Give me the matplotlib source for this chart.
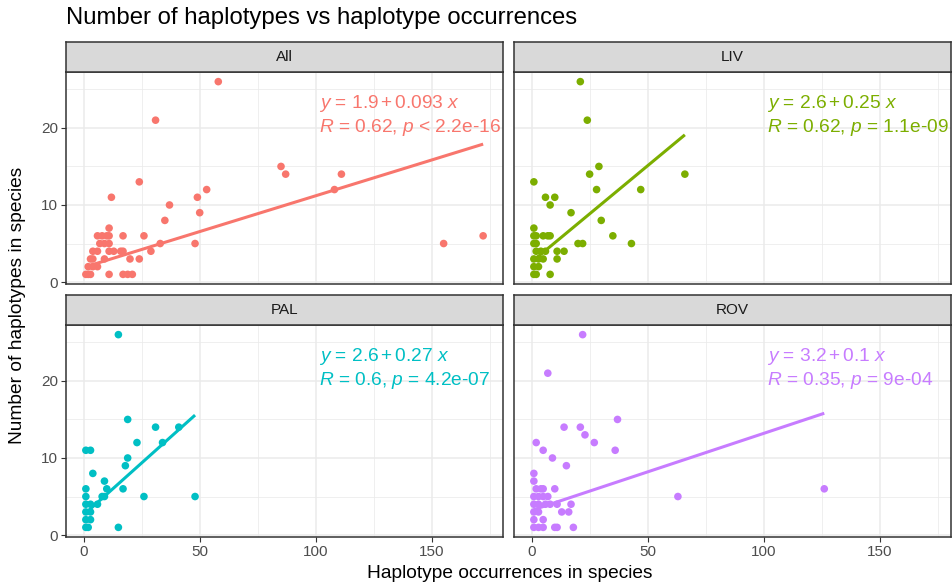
import numpy as np
import matplotlib.pyplot as plt

plt.rcParams['font.family'] = ['Liberation Sans', 'DejaVu Sans']
plt.rcParams['mathtext.fontset'] = 'custom'
plt.rcParams['mathtext.rm'] = 'Liberation Sans'
plt.rcParams['mathtext.it'] = 'Liberation Sans:italic'

# --- DATOS ---
groups = ['All', 'LIV', 'PAL', 'ROV']
colors = ['#F8766D', '#7CAE00', '#00BFC4', '#C77CFF']

all_x = [58, 31, 85, 87, 111, 108, 53, 49, 50, 37, 35, 24, 12, 155, 172, 48, 33, 29, 26, 17,
         24, 20, 11, 11, 17, 19, 21, 6, 8, 10, 11, 7, 9, 11, 4, 6, 11, 13, 16, 17,
         3, 4, 9, 2, 4, 6, 1, 2, 3]
all_y = [26, 21, 15, 14, 14, 12, 12, 11, 9, 10, 8, 13, 11, 5, 6, 5, 5, 4, 6, 6,
         3, 3, 7, 1, 1, 1, 1, 6, 6, 6, 6, 5, 5, 5, 4, 4, 4, 4, 4, 4,
         3, 3, 3, 2, 2, 2, 1, 1, 1]

liv_x = [21, 24, 29, 25, 28, 66, 47, 1, 6, 10, 8, 17, 30, 35, 43, 20, 22, 1, 1, 2, 5, 7, 8,
         1, 2, 2, 4, 6, 11, 14, 1, 3, 5, 11, 1, 3, 1, 2, 8]
liv_y = [26, 21, 15, 14, 12, 14, 12, 13, 11, 11, 10, 9, 8, 6, 5, 5, 5, 7, 6, 6, 6, 6, 6,
         5, 5, 4, 4, 4, 4, 4, 3, 3, 3, 3, 2, 2, 1, 1, 1]

pal_x = [15, 19, 31, 41, 23, 34, 1, 3, 19, 18, 4, 9, 10, 17, 1, 8, 9, 26, 48, 1,
         1, 3, 6, 1, 3, 1, 3, 1, 2, 15]
pal_y = [26, 15, 14, 14, 12, 12, 11, 11, 10, 9, 8, 7, 6, 6, 6, 5, 5, 5, 5, 5,
         4, 4, 4, 3, 3, 2, 2, 1, 1, 1]

rov_x = [22, 7, 37, 14, 21, 23, 27, 36, 2, 5, 9, 15, 1, 1, 2, 4, 5, 10, 1, 3, 5, 7, 63, 126,
         1, 3, 6, 8, 11, 17, 1, 3, 13, 16, 1, 5, 1, 3, 5, 10, 11, 18]
rov_y = [26, 21, 15, 14, 14, 13, 12, 11, 12, 11, 10, 9, 8, 7, 6, 6, 6, 6, 5, 5, 5, 5, 5, 6,
         4, 4, 4, 4, 4, 4, 3, 3, 3, 3, 2, 2, 1, 1, 1, 1, 1, 1]

# coeficientes de la regresión (etiquetas del gráfico)
intercepts = [1.9, 2.6, 2.6, 3.2]
slopes = [0.093, 0.25, 0.27, 0.1]
eq_labels = [r'$\it{y}$ = 1.9$\,$+$\,$0.093 $\it{x}$', r'$\it{y}$ = 2.6$\,$+$\,$0.25 $\it{x}$',
             r'$\it{y}$ = 2.6$\,$+$\,$0.27 $\it{x}$', r'$\it{y}$ = 3.2$\,$+$\,$0.1 $\it{x}$']
cor_labels = [r'$\it{R}$ = 0.62, $\it{p}$ < 2.2e-16', r'$\it{R}$ = 0.62, $\it{p}$ = 1.1e-09',
              r'$\it{R}$ = 0.6, $\it{p}$ = 4.2e-07', r'$\it{R}$ = 0.35, $\it{p}$ = 9e-04']

xs = [all_x, liv_x, pal_x, rov_x]
ys = [all_y, liv_y, pal_y, rov_y]

# --- FIGURA ---
W, H = 952, 586
fig = plt.figure(figsize=(W / 100, H / 100), dpi=100)

allx = np.concatenate([np.array(v, float) for v in xs])
ally = np.concatenate([np.array(v, float) for v in ys])
padx = 0.05 * (allx.max() - allx.min())
pady = 0.05 * (ally.max() - ally.min())
xlim = (allx.min() - padx, allx.max() + padx)
ylim = (ally.min() - pady, ally.max() + pady)

pos = [(66, 72), (514, 72), (66, 325), (514, 325)]  # (izq, arriba) en px
pw, ph, sh = 437, 212, 30

for i, g in enumerate(groups):
    left, top = pos[i]
    ax = fig.add_axes([left / W, 1 - (top + ph) / H, pw / W, ph / H])
    ax.set_xlim(xlim)
    ax.set_ylim(ylim)
    ax.set_xticks([0, 50, 100, 150])
    ax.set_xticks([25, 75, 125, 175], minor=True)
    ax.set_yticks([0, 10, 20])
    ax.set_yticks([5, 15, 25], minor=True)
    ax.grid(which='major', color='#EBEBEB', lw=1.1, zorder=0)
    ax.grid(which='minor', color='#EBEBEB', lw=0.55, zorder=0)
    ax.set_axisbelow(True)
    for s in ax.spines.values():
        s.set_color('#333333')
        s.set_linewidth(1.1)
    ax.tick_params(which='major', length=3.5, width=0.8, color='#333333',
                   labelsize=11, labelcolor='#4D4D4D', pad=2)
    ax.tick_params(which='minor', length=0)
    if i < 2:
        ax.tick_params(axis='x', labelbottom=False, length=0)
    if i % 2 == 1:
        ax.tick_params(axis='y', labelleft=False, length=0)

    x = np.array(xs[i], float)
    xl = np.array([x.min(), x.max()])
    ax.plot(xl, intercepts[i] + slopes[i] * xl, color=colors[i], lw=2.2, zorder=2,
            solid_capstyle='butt')
    ax.scatter(xs[i], ys[i], s=30, color=colors[i], edgecolors='none', zorder=3)
    ax.text(101.5, 23.1, eq_labels[i], color=colors[i], fontsize=13.8, va='center', ha='left')
    ax.text(101.5, 20.0, cor_labels[i], color=colors[i], fontsize=13.8, va='center', ha='left')

    # tira del facet
    sax = fig.add_axes([left / W, 1 - top / H, pw / W, sh / H])
    sax.set_facecolor('#D9D9D9')
    sax.set_xticks([])
    sax.set_yticks([])
    for s in sax.spines.values():
        s.set_color('#333333')
        s.set_linewidth(1.1)
    sax.text(0.5, 0.5, g, transform=sax.transAxes, ha='center', va='center',
             fontsize=11, color='#1A1A1A')

fig.text(66 / W, 1 - 18 / H, 'Number of haplotypes vs haplotype occurrences',
         fontsize=17.2, ha='left', va='center')
fig.text(510 / W, 1 - 574 / H, 'Haplotype occurrences in species', fontsize=13.8,
         ha='center', va='center')
fig.text(18 / W, 1 - 305 / H, 'Number of haplotypes in species', fontsize=13.8,
         ha='center', va='center', rotation=90)

fig.savefig('out.png', dpi=100)
